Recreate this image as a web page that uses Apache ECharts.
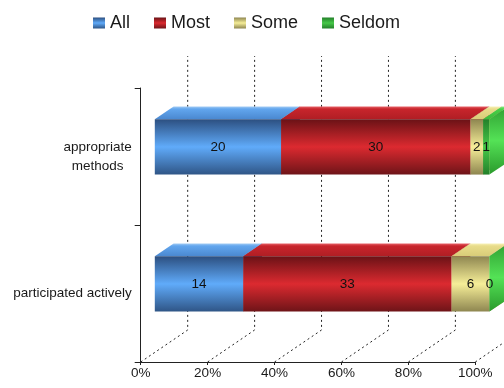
<!DOCTYPE html>
<html>
<head>
<meta charset="utf-8">
<script src="https://cdn.jsdelivr.net/npm/echarts@6/dist/echarts.min.js"></script>
<style>
html,body{margin:0;padding:0;background:#fff;}
#chart{width:504px;height:388px;}
</style>
</head>
<body>
<div id="chart"></div>
<script>
// ---- data ----
const categories = ['appropriate methods', 'participated actively'];
const seriesNames = ['All', 'Most', 'Some', 'Seldom'];
const allValues = [20, 14];
const mostValues = [30, 33];
const someValues = [2, 6];
const seldomValues = [1, 0];
const xTickValues = [0, 20, 40, 60, 80, 100];
const xTickLabels = ['0%', '20%', '40%', '60%', '80%', '100%'];

// ---- styles ----
const FONT = '"Liberation Sans", Arial, sans-serif';
const DEPTH = [47, -32];          // 3D wall depth in px
const BAR_FRONT = 0.3, BAR_BACK = 0.7;
const palette = {
  All:    {front: ['#2c4f80', '#60abfa', '#2f5586'], top: ['#a4ccf4', '#62a6ee', '#4a88d0'], side: ['#3b6aa8', '#6aaef0', '#3a66a0']},
  Most:   {front: ['#6a1216', '#dc2a30', '#6e1418'], top: ['#e8646a', '#c8252c', '#b01e24'], side: ['#8a1a1e', '#e0363c', '#8a1a1e']},
  Some:   {front: ['#8e8650', '#f6ee98', '#8e8650'], top: ['#f8f2b8', '#e8dc8a', '#d8cc78'], side: ['#a89e5c', '#f0e690', '#a89e5c']},
  Seldom: {front: ['#23802a', '#46c848', '#23802a'], top: ['#8ef08e', '#48d048', '#3cbc3c'], side: ['#2fa032', '#54e256', '#2a9a2c']}
};
const valueLists = [allValues, mostValues, someValues, seldomValues];
const totals = categories.map((c, i) => valueLists.reduce((s, l) => s + l[i], 0));

function grad(stops) {
  return new echarts.graphic.LinearGradient(0, 0, 0, 1, [
    {offset: 0, color: stops[0]}, {offset: 0.5, color: stops[1]}, {offset: 1, color: stops[2]}
  ]);
}
function topGrad(stops) {
  return new echarts.graphic.LinearGradient(0, 0, 0, 1, [
    {offset: 0, color: stops[0]}, {offset: 0.2, color: stops[1]}, {offset: 1, color: stops[2]}
  ]);
}

function makeBarRender(name) {
  const pal = palette[name];
  return function (params, api) {
    const s = api.value(0), e = api.value(1), c = api.value(2), v = api.value(3);
    const p0 = api.coord([s, c]);
    const p1 = api.coord([e, c]);
    const band = api.size([0, 1])[1];
    const h = band * 0.404;
    const ox = DEPTH[0] * BAR_FRONT, oy = DEPTH[1] * BAR_FRONT;
    const dx = DEPTH[0] * (BAR_BACK - BAR_FRONT), dy = DEPTH[1] * (BAR_BACK - BAR_FRONT);
    const x0 = p0[0] + ox, x1 = p1[0] + ox;
    const yT = p0[1] + oy - h / 2, yB = p0[1] + oy + h / 2;
    const children = [];
    if (x1 - x0 > 0.01) {
      children.push({type: 'polygon', shape: {points: [[x0, yT], [x1, yT], [x1 + dx, yT + dy], [x0 + dx, yT + dy]]},
        style: {fill: topGrad(pal.top)}});
      children.push({type: 'rect', shape: {x: x0, y: yT, width: x1 - x0, height: h},
        style: {fill: grad(pal.front)}});
    }
    children.push({type: 'polygon', shape: {points: [[x1, yT], [x1 + dx, yT + dy], [x1 + dx, yB + dy], [x1, yB]]},
      style: {fill: grad(pal.side)}});
    children.push({type: 'text', style: {text: String(v), x: (x0 + x1) / 2, y: (yT + yB) / 2,
      align: 'center', verticalAlign: 'middle', font: '13.5px ' + FONT, fill: '#111'}});
    return {type: 'group', children: children};
  };
}

const barSeries = seriesNames.map((name, si) => {
  const data = categories.map((cat, ci) => {
    let before = 0;
    for (let k = 0; k < si; k++) before += valueLists[k][ci];
    const start = before / totals[ci] * 100;
    const end = (before + valueLists[si][ci]) / totals[ci] * 100;
    return [start, end, ci, valueLists[si][ci]];
  });
  return {
    type: 'custom', name: name, z: 3, clip: false,
    renderItem: makeBarRender(name),
    encode: {x: [0, 1], y: 2},
    itemStyle: {color: grad(palette[name].front)},
    data: data
  };
});

const gridSeries = {
  type: 'custom', name: '_grid', z: 1, clip: false, silent: true,
  encode: {x: 0, y: 1},
  data: xTickValues.map(t => [t, 0]),
  renderItem: function (params, api) {
    const cs = params.coordSys;
    const px = api.coord([api.value(0), 0])[0];
    const bottom = cs.y + cs.height, top = cs.y;
    return {type: 'polyline', shape: {points: [[px, bottom], [px + DEPTH[0], bottom + DEPTH[1]], [px + DEPTH[0], top + DEPTH[1]]]},
      style: {stroke: '#222', lineWidth: 1, lineDash: [2, 3], fill: null}};
  }
};

const chart = echarts.init(document.getElementById('chart'), null, {renderer: 'canvas'});
chart.setOption({
  animation: false,
  backgroundColor: '#fff',
  legend: {
    data: seriesNames, left: 88, top: 9, icon: 'rect', itemWidth: 12, itemHeight: 11, itemGap: 24,
    textStyle: {fontFamily: FONT, fontSize: 18, color: '#1a1a1a'}
  },
  grid: {left: 140.7, right: 28.7, top: 88, bottom: 26, containLabel: false},
  xAxis: {
    type: 'value', min: 0, max: 100, interval: 20,
    axisLine: {show: true, lineStyle: {color: '#222'}},
    axisTick: {show: true, length: 3, lineStyle: {color: '#222'}},
    splitLine: {show: false},
    axisLabel: {margin: 4, fontFamily: FONT, fontSize: 13.5, color: '#1a1a1a',
      formatter: v => xTickLabels[xTickValues.indexOf(v)]}
  },
  yAxis: {
    type: 'category', data: categories, inverse: true,
    axisLine: {show: true, lineStyle: {color: '#222'}},
    axisTick: {show: true, length: 6, lineStyle: {color: '#222'}},
    splitLine: {show: false},
    axisLabel: {margin: 9, fontFamily: FONT, fontSize: 13.5, color: '#1a1a1a',
      formatter: v => v === 'appropriate methods' ? '{c|appropriate}\n{c|methods}' : v,
      rich: {c: {align: 'center', fontFamily: FONT, fontSize: 13.5, color: '#1a1a1a', lineHeight: 19}}}
  },
  series: [gridSeries].concat(barSeries)
});
</script>
</body>
</html>
